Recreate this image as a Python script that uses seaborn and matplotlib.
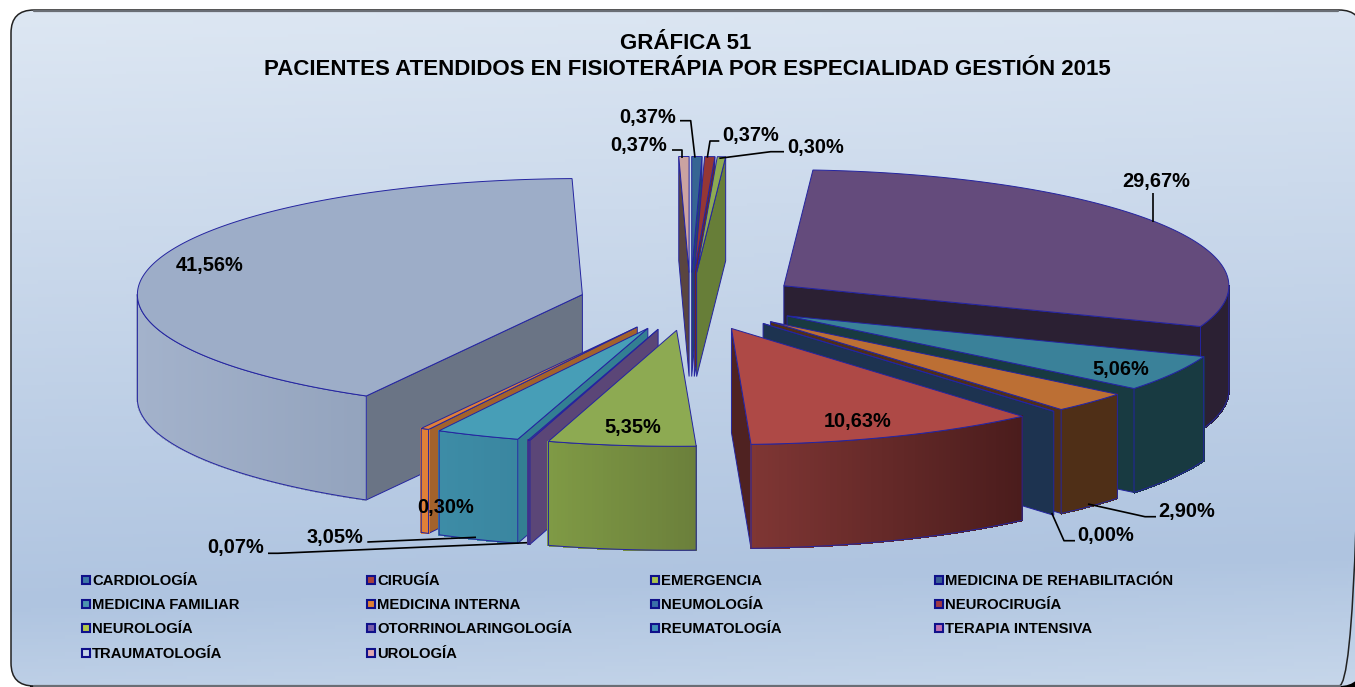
#!/usr/bin/python3
import numpy as np
import seaborn as sns
import matplotlib
matplotlib.use("Agg")
import matplotlib.pyplot as plt
from matplotlib.patches import FancyBboxPatch, Polygon, Rectangle
from matplotlib.colors import LinearSegmentedColormap, to_rgb

# Data
especialidades = ["CARDIOLOGÍA", "CIRUGÍA", "EMERGENCIA", "MEDICINA DE REHABILITACIÓN",
                  "MEDICINA FAMILIAR", "MEDICINA INTERNA", "NEUMOLOGÍA", "NEUROCIRUGÍA",
                  "NEUROLOGÍA", "OTORRINOLARINGOLOGÍA", "REUMATOLOGÍA", "TERAPIA INTENSIVA",
                  "TRAUMATOLOGÍA", "UROLOGÍA"]
porcentajes = [0.37, 0.37, 0.30, 29.67, 5.06, 2.90, 0.00, 10.63, 5.35, 0.07, 3.05, 0.30, 41.56, 0.37]

# Colours: top face, radial wall, outer wall left and right
top_colors = ["#366593", "#953735", "#8DAA52", "#644B7C", "#3A8199", "#BC6F34", "#1D3350",
              "#AE4946", "#8DAA52", "#5B4677", "#479EB7", "#E08038", "#9DADC8", "#CBA3A1"]
side_colors = ["#24466A", "#6A2826", "#677E38", "#2B2033", "#183A41", "#4F2F17", "#1D3350",
               "#4F2221", "#677E38", "#5B4677", "#337F92", "#A3622C", "#6A7485", "#5A4540"]
wall_left = ["#24466A", "#6A2826", "#677E38", "#2B2033", "#183A41", "#4F2F17", "#1D3350",
             "#7F3634", "#7F9A45", "#5B4677", "#3D8CA6", "#E08038", "#A3B2CB", "#5A4540"]
wall_right = ["#24466A", "#6A2826", "#677E38", "#2B2033", "#183A41", "#4F2F17", "#1D3350",
              "#4A1C1C", "#6B7F3B", "#5B4677", "#3A86A0", "#E08038", "#93A3BD", "#5A4540"]
legend_colors = ["#3E78A6", "#A8403C", "#A9C24F", "#3A5F94", "#4C93AE", "#DE8034", "#3A70A8",
                 "#A03A44", "#B5C84A", "#7A5FA8", "#3F8FB8", "#C070B0", "#C5D4E8", "#E0A8B0"]

# Pie geometry in pixels
cx, cy = 690.4, 301.5
rx, ry = 445, 116
depth = 104
explosion = 0.25
edge = "#2424A0"

sns.set_theme(style="white")
plt.rcParams["font.family"] = ["Liberation Sans", "DejaVu Sans"]

fig = plt.figure(figsize=(13.55, 6.87), dpi=100, facecolor="white")
ax = fig.add_axes([0, 0, 1, 1])
ax.set_xlim(0, 1355)
ax.set_ylim(687, 0)
ax.axis("off")

# Panel with a vertical gradient, shadow only below it
ax.add_patch(FancyBboxPatch((53, 120), 1320, 580, boxstyle="round,pad=23,rounding_size=23",
                            fc="black", ec="none", zorder=0))
panel = FancyBboxPatch((34, 33), 1305, 630, boxstyle="round,pad=23,rounding_size=23",
                       fc="none", ec="#222222", lw=1.1, zorder=2)
ax.add_patch(panel)
grad = LinearSegmentedColormap.from_list("bg", [(0, "#DDE7F3"), (0.82, "#AFC4E0"), (1, "#C6D6EA")])
yy, xx = np.mgrid[0:1:200j, 0:1:200j]
im = ax.imshow(yy * 0.93 + xx * 0.07, extent=(11, 1362, 686, 10), cmap=grad, vmin=0, vmax=1,
               aspect="auto", zorder=1)
im.set_clip_path(panel)
ax.set_xlim(0, 1355)
ax.set_ylim(687, 0)
ax.plot([34, 1338], [10.5, 10.5], color="#6A6E75", lw=1.6, zorder=3)
ax.plot([34, 1340], [686.3, 686.3], color="#6A6E75", lw=1.6, zorder=3)

ax.text(686, 43.5, "GRÁFICA 51", ha="center", va="center", fontsize=16, fontweight="bold", color="black", zorder=40)
ax.text(687.5, 69.5, "PACIENTES ATENDIDOS EN FISIOTERÁPIA POR ESPECIALIDAD GESTIÓN 2015", ha="center", va="center",
        fontsize=16, fontweight="bold", color="black", zorder=40)

# Slices from the values, clockwise from the top
limits = np.concatenate([[0], np.cumsum(porcentajes)]) / np.sum(porcentajes) * 360


def point(theta, apex, r=1.0):
    t = np.radians(theta)
    return apex[0] + rx * r * np.sin(t), apex[1] - ry * r * np.cos(t)


def draw_slice(i, z):
    a, b = limits[i], limits[i + 1]
    mid = np.radians((a + b) / 2)
    apex = (cx + explosion * rx * np.sin(mid), cy - explosion * ry * np.cos(mid))
    # radial wall facing the viewer
    for theta, visible in ((a, 180 <= a < 360), (b, 0 < b < 180)):
        if visible:
            x, y = point(theta, apex)
            ax.add_patch(Polygon([apex, (x, y), (x, y + depth), (apex[0], apex[1] + depth)],
                                 fc=side_colors[i], ec=edge, lw=0.7, zorder=z))
    # outer wall on the front half
    lo, hi = max(a, 90), min(b, 270)
    if hi > lo:
        thetas = np.linspace(lo, hi, max(int((hi - lo) * 2), 12) + 1)
        xs, ys = point(thetas, apex)
        left, right = np.array(to_rgb(wall_left[i])), np.array(to_rgb(wall_right[i]))
        xmin, xmax = xs.min(), xs.max()
        for k in range(len(thetas) - 1):
            f = ((xs[k] + xs[k + 1]) / 2 - xmin) / max(xmax - xmin, 1)
            col = left + (right - left) * f
            ax.fill([xs[k], xs[k + 1], xs[k + 1], xs[k]],
                    [ys[k], ys[k + 1], ys[k + 1] + depth, ys[k] + depth],
                    fc=col, ec=col, lw=0.8, antialiased=False, zorder=z)
        outline = list(zip(xs, ys)) + list(zip(xs[::-1], ys[::-1] + depth))
        ax.add_patch(Polygon(outline, fc="none", ec=edge, lw=0.7, zorder=z))
    # top face
    thetas = np.linspace(a, b, max(int((b - a) * 2), 2) + 1)
    xs, ys = point(thetas, apex)
    ax.add_patch(Polygon([apex] + list(zip(xs, ys)), fc=top_colors[i], ec=edge, lw=0.7, zorder=z))


# back slices first
draw_order = [13, 0, 1, 2, 3, 12, 4, 5, 6, 11, 10, 9, 7, 8]
for z, i in enumerate(draw_order):
    draw_slice(i, 5 + z)

# Labels
label_pos = [(648, 117), (751, 136), (816, 148), (1156, 182), (1121, 369), (1187, 512), (1106, 536),
             (858, 422), (633, 428), (236, 548), (335, 538), (446, 508), (210, 266), (639, 146)]
leaders = [[(680, 120.7), (690.7, 120.7), (695, 157.7)],
           [(719.3, 141), (710, 141), (707.3, 157.7)],
           [(784, 151.7), (770.7, 151.7), (719.3, 158.3)],
           [(1153, 193), (1153, 222)],
           [(1156, 516.7), (1145, 516.7), (1088, 504)],
           [(1075, 540.7), (1064, 540.7), (1051.7, 513)],
           [(367.3, 542), (476, 537.3)],
           [(268, 553.3), (278, 553.3), (527, 542.7)],
           [(672, 150), (682, 150), (682, 157.7)]]
for line in leaders:
    ax.plot(*zip(*line), color="black", lw=1.2, zorder=30, solid_capstyle="butt")
for val, (x, y) in zip(porcentajes, label_pos):
    ax.text(x, y, f"{val:.2f}%".replace(".", ","), ha="center", va="center", fontsize=14.4,
            fontweight="bold", color="black", zorder=35)

# Legend, four columns
col_x = [81, 366, 650, 934]
row_y = [581, 605, 629, 654]
for i, name in enumerate(especialidades):
    x, y = col_x[i % 4], row_y[i // 4]
    ax.add_patch(Rectangle((x + 1, y - 5), 8, 8, fc=legend_colors[i], ec="#10108A", lw=1.5, zorder=30))
    ax.text(x + 11, y, name, ha="left", va="center", fontsize=10.7, fontweight="bold", color="black", zorder=30)

fig.savefig("out.png", dpi=100, facecolor="white")
